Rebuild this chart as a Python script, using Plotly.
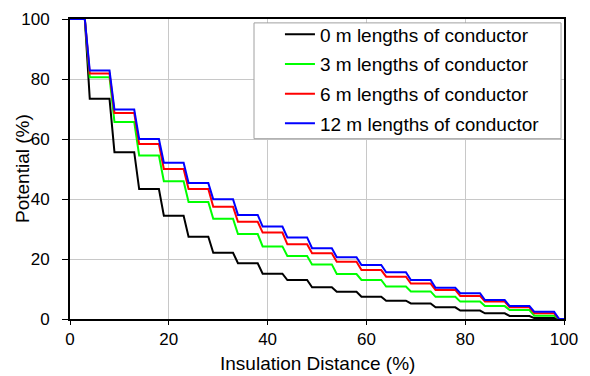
import plotly.graph_objects as go

# Step boundaries along insulation distance (%)
step_start = [0, 4, 9, 14, 19, 24, 29, 34, 39, 44, 49, 54, 59, 64, 69, 74, 79, 84, 89, 94, 99]
step_end = [3, 8, 13, 18, 23, 28, 33, 38, 43, 48, 53, 58, 63, 68, 73, 78, 83, 88, 93, 98, 100]

series_names = [
    "0 m lengths of conductor",
    "3 m lengths of conductor",
    "6 m lengths of conductor",
    "12 m lengths of conductor",
]
series_colors = ["#000000", "#00ff00", "#ff0000", "#0000ff"]

pot_0m = [100, 73.4, 55.6, 43.3, 34.4, 27.4, 22.1, 18.6, 15.1, 13.0, 10.6, 9.1, 7.4, 6.1, 5.2, 3.9, 2.8, 1.9, 1.0, 0.3, 0]
pot_3m = [100, 80.6, 65.7, 54.5, 45.9, 39.0, 33.4, 28.3, 24.2, 21.0, 18.2, 15.0, 13.0, 10.8, 9.2, 7.4, 5.8, 4.3, 3.0, 1.1, 0]
pot_6m = [100, 81.8, 68.7, 58.3, 50.0, 43.3, 37.4, 32.4, 28.8, 24.9, 21.9, 19.1, 16.3, 14.1, 11.8, 9.7, 7.7, 5.8, 3.9, 1.9, 0]
pot_12m = [100, 82.8, 69.8, 60.0, 52.1, 45.3, 39.9, 34.7, 30.8, 27.2, 23.6, 20.6, 18.0, 15.6, 13.0, 10.4, 8.6, 6.3, 4.3, 2.4, 0]

series_values = [pot_0m, pot_3m, pot_6m, pot_12m]

FONT = "Arial, Liberation Sans, sans-serif"

fig = go.Figure()
for name, color, levels in zip(series_names, series_colors, series_values):
    xs, ys = [], []
    for s, e, v in zip(step_start, step_end, levels):
        xs += [s, e]
        ys += [v, v]
    fig.add_trace(go.Scatter(
        x=xs, y=ys, mode="lines", name=name, legendgroup=name,
        line=dict(color=color, width=2),
    ))

axis_common = dict(
    showline=True, linecolor="#000000", linewidth=2, mirror=True,
    showgrid=True, gridcolor="#c8c8c8", gridwidth=1,
    ticks="outside", tickcolor="#000000", tickwidth=1,
    zeroline=False, automargin=False,
    tickfont=dict(family=FONT, size=17, color="#000000"),
)

fig.update_xaxes(
    range=[0, 100], tickvals=[0, 20, 40, 60, 80, 100],
    ticklen=4, ticklabelstandoff=0,
    **axis_common,
)
fig.update_yaxes(
    range=[0, 100], tickvals=[0, 20, 40, 60, 80, 100],
    ticklen=6, ticklabelstandoff=9,
    **axis_common,
)

# legend frame
fig.add_shape(
    type="rect", xref="paper", yref="paper",
    x0=0.3725, x1=0.994, y0=0.601, y1=0.987,
    line=dict(color="#a0a0a0", width=1), fillcolor="#ffffff", layer="above",
)

# axis titles placed as in the reference
fig.add_annotation(
    text="Potential (%)", xref="paper", yref="paper", x=0, y=0.5,
    xanchor="center", yanchor="middle", xshift=-48, textangle=-90,
    showarrow=False, font=dict(family=FONT, size=19, color="#000000"),
)
fig.add_annotation(
    text="Insulation Distance (%)", xref="paper", yref="paper", x=0.5, y=0,
    xanchor="center", yanchor="middle", yshift=-44,
    showarrow=False, font=dict(family=FONT, size=19, color="#000000"),
)

fig.update_layout(
    width=590, height=376,
    margin=dict(l=70, r=26, t=19, b=57),
    paper_bgcolor="#ffffff", plot_bgcolor="#ffffff",
    font=dict(family=FONT, color="#000000"),
    showlegend=True,
    legend=dict(
        x=0.425, y=1.012, xanchor="left", yanchor="top",
        bgcolor="rgba(0,0,0,0)", borderwidth=0,
        font=dict(family=FONT, size=19, color="#000000"),
        tracegroupgap=2,
    ),
)

fig.write_html("out.html")
